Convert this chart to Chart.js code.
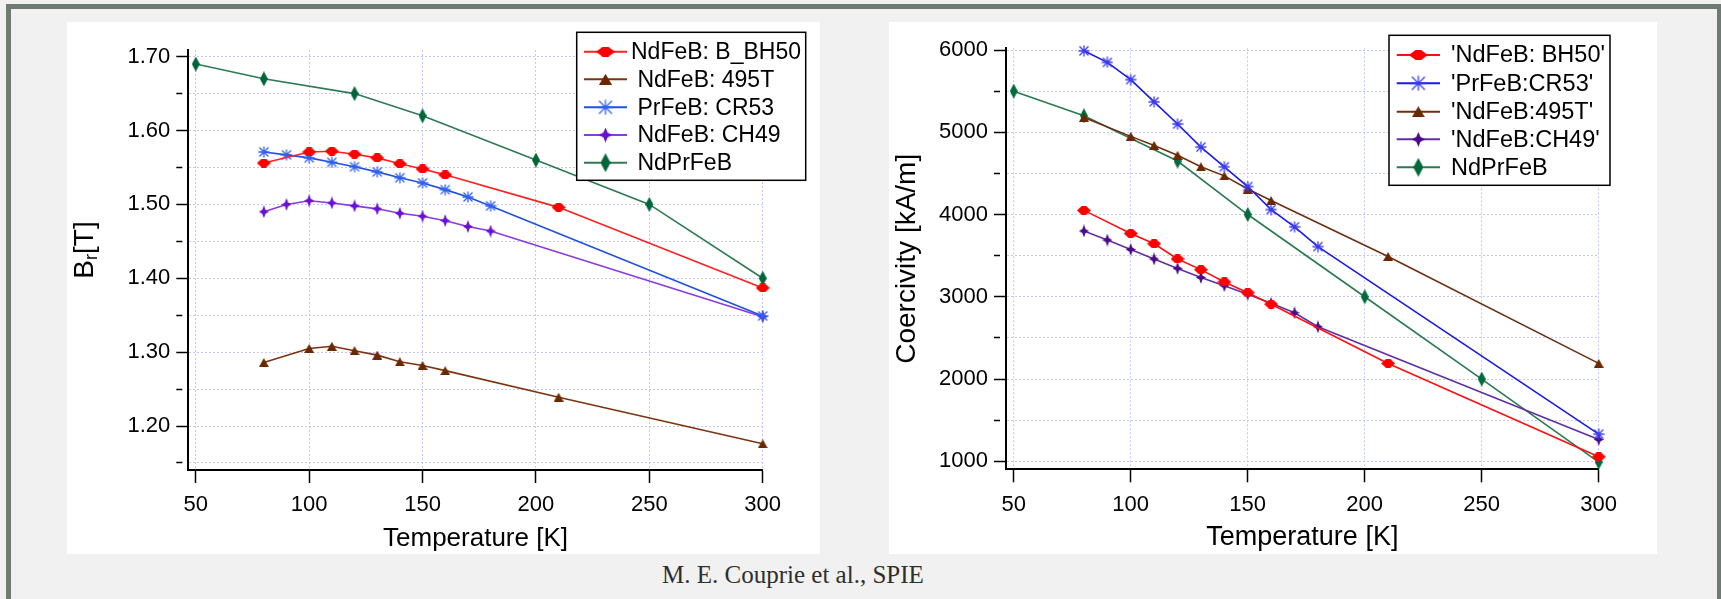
<!DOCTYPE html>
<html>
<head>
<meta charset="utf-8">
<script src="https://cdn.jsdelivr.net/npm/chart.js@4.4.1/dist/chart.umd.min.js"></script>
<style>
  html, body { margin: 0; padding: 0; }
  body { width: 1721px; height: 599px; background: #f1f1f1; position: relative; overflow: hidden; }
  #frame { position: absolute; left: 6px; top: 4px; width: 1706px; height: 700px;
           border-top: 5px solid #6d7b72; border-left: 5px solid #6d7b72; border-right: 4px solid #6d7b72; }
  canvas { position: absolute; background: #fff; }
  #cBr { left: 67px; top: 22px; }
  #cHc { left: 889px; top: 22px; }
  #credit { position: absolute; left: 662px; top: 562px; font: 25px/25px "Liberation Serif", serif; color: #2e2e2e; white-space: nowrap; }
</style>
</head>
<body>
<div id="frame"></div>
<canvas id="cBr" width="753" height="532"></canvas>
<canvas id="cHc" width="768" height="532"></canvas>
<div id="credit">M. E. Couprie et al., SPIE</div>
<script>
// temperatures [K]
const tSparse = [80, 100, 110, 120, 130, 140, 150, 160, 210, 300];
const tDense = [80, 90, 100, 110, 120, 130, 140, 150, 160, 170, 180, 300];
const tNdPr = [50, 80, 120, 150, 200, 250, 300];

// remanence Br [T]
const brBH50 = [1.556, 1.571, 1.572, 1.568, 1.563, 1.555, 1.548, 1.540, 1.496, 1.387];
const br495T = [1.286, 1.305, 1.308, 1.302, 1.296, 1.287, 1.282, 1.275, 1.239, 1.176];
const brCR53 = [1.571, 1.567, 1.563, 1.557, 1.551, 1.544, 1.536, 1.529, 1.520, 1.510, 1.498, 1.349];
const brCH49 = [1.490, 1.500, 1.505, 1.502, 1.498, 1.494, 1.488, 1.484, 1.478, 1.470, 1.464, 1.348];
const brNdPr = [1.69, 1.67, 1.65, 1.62, 1.56, 1.50, 1.40];

// coercivity [kA/m]
const hcBH50 = [4050, 3770, 3645, 3460, 3330, 3180, 3050, 2910, 2190, 1055];
const hcCR53 = [5990, 5850, 5640, 5370, 5100, 4820, 4580, 4340, 4060, 3850, 3610, 1330];
const hc495T = [5180, 4950, 4840, 4720, 4580, 4470, 4310, 4170, 3490, 2190];
const hcCH49 = [3800, 3690, 3575, 3460, 3345, 3235, 3135, 3030, 2920, 2805, 2635, 1265];
const hcNdPr = [5500, 5200, 4650, 4000, 3000, 2000, 990];

// axis ticks
const xTicks = [50, 100, 150, 200, 250, 300];
const brTicks = [1.15, 1.20, 1.25, 1.30, 1.35, 1.40, 1.45, 1.50, 1.55, 1.60, 1.65, 1.70];
const brTickLabels = ['', '1.20', '', '1.30', '', '1.40', '', '1.50', '', '1.60', '', '1.70'];
const hcTicks = [1000, 1500, 2000, 2500, 3000, 3500, 4000, 4500, 5000, 5500, 6000];
const hcTickLabels = ['1000', '', '2000', '', '3000', '', '4000', '', '5000', '', '6000'];

const FONT = '"Liberation Sans", Arial, sans-serif';
const GRID = '#c4c4ff';

// small canvases used as point styles
function marker(shape, w, h, fill) {
  const c = document.createElement('canvas');
  c.width = w; c.height = h;
  const g = c.getContext('2d');
  g.fillStyle = fill; g.strokeStyle = fill;
  g.beginPath();
  if (shape === 'hex') {
    g.moveTo(0, h / 2); g.lineTo(w * 0.35, 0); g.lineTo(w * 0.65, 0);
    g.lineTo(w, h / 2); g.lineTo(w * 0.65, h); g.lineTo(w * 0.35, h);
  } else if (shape === 'tri') {
    g.moveTo(w / 2, 0); g.lineTo(w, h); g.lineTo(0, h);
  } else if (shape === 'diamond') {
    g.moveTo(w / 2, 0); g.lineTo(w, h / 2); g.lineTo(w / 2, h); g.lineTo(0, h / 2);
  } else if (shape === 'sparkle') {
    const cx = w / 2, cy = h / 2, ix = w * 0.16, iy = h * 0.16;
    g.moveTo(cx, 0); g.lineTo(cx + ix, cy - iy); g.lineTo(w, cy); g.lineTo(cx + ix, cy + iy);
    g.lineTo(cx, h); g.lineTo(cx - ix, cy + iy); g.lineTo(0, cy); g.lineTo(cx - ix, cy - iy);
  }
  if (shape === 'star') {
    g.lineWidth = 1.3;
    g.moveTo(w / 2, 0.5); g.lineTo(w / 2, h - 0.5);
    g.moveTo(0.5, h / 2); g.lineTo(w - 0.5, h / 2);
    g.moveTo(1.5, 1.5); g.lineTo(w - 1.5, h - 1.5);
    g.moveTo(w - 1.5, 1.5); g.lineTo(1.5, h - 1.5);
    g.stroke();
  } else {
    g.closePath(); g.fill();
  }
  return c;
}

const SIZES = { hex: [14, 9], tri: [10, 9], star: [12, 12], sparkle: [10, 13], diamond: [8, 15] };
const LSIZES = { hex: [19, 10], tri: [13, 11], star: [16, 16], sparkle: [13, 15], diamond: [10, 19] };

function series(label, xs, ys, line, fill, shape) {
  return {
    label: label,
    data: xs.map((x, i) => ({ x: x, y: ys[i] })),
    borderColor: line,
    backgroundColor: fill,
    borderWidth: 1.6,
    tension: 0,
    clip: false,
    pointStyle: marker(shape, SIZES[shape][0], SIZES[shape][1], fill),
    pointRadius: 5,
    pointHoverRadius: 5,
    legendPt: marker(shape, LSIZES[shape][0], LSIZES[shape][1], fill)
  };
}

function boxLegend(o) {
  return {
    id: 'boxLegend',
    afterDatasetsDraw(chart) {
      const g = chart.ctx;
      g.save();
      g.fillStyle = '#fff';
      g.fillRect(o.x, o.y, o.w, o.h);
      g.lineWidth = 1.5; g.strokeStyle = '#000';
      g.strokeRect(o.x, o.y, o.w, o.h);
      g.font = o.size + 'px ' + FONT;
      g.textBaseline = 'middle';
      chart.data.datasets.forEach((ds, i) => {
        const ry = o.rows[i];
        g.strokeStyle = ds.borderColor; g.lineWidth = 2;
        g.beginPath(); g.moveTo(o.x0, ry); g.lineTo(o.x1, ry); g.stroke();
        const m = ds.legendPt;
        g.drawImage(m, (o.x0 + o.x1) / 2 - m.width / 2, ry - m.height / 2);
        g.fillStyle = '#000';
        g.fillText(ds.label, o.tx, ry + 1);
      });
      g.restore();
    }
  };
}

// B_r title with subscript
const brTitle = {
  id: 'brTitle',
  afterDraw(chart) {
    const g = chart.ctx;
    const big = '28px ' + FONT, small = '18px ' + FONT;
    g.save();
    g.translate(18, 228);
    g.rotate(-Math.PI / 2);
    g.fillStyle = '#000';
    g.textBaseline = 'middle';
    g.font = big;
    const wB = g.measureText('B').width, wT = g.measureText('[T]').width;
    g.font = small;
    const wr = g.measureText('r').width;
    const x0 = -(wB + wr + wT) / 2;
    g.font = big; g.fillText('B', x0, 0);
    g.font = small; g.fillText('r', x0 + wB, 7);
    g.font = big; g.fillText('[T]', x0 + wB + wr, 0);
    g.restore();
  }
};

function xScale(h, titleSize) {
  return {
    type: 'linear', min: 46.7, max: 300,
    afterBuildTicks: s => { s.ticks = xTicks.map(v => ({ value: v })); },
    afterFit: s => { s.height = h; },
    ticks: { autoSkip: false, maxRotation: 0, padding: 9, color: '#000', font: { family: FONT, size: 22 }, callback: v => String(v) },
    grid: { color: GRID, lineWidth: 1, tickLength: 13, tickColor: '#000', tickWidth: 1.5, tickBorderDash: [] },
    border: { color: '#000', width: 2, dash: [2, 2] },
    title: { display: true, text: 'Temperature [K]', color: '#000', font: { family: FONT, size: titleSize }, padding: 0 }
  };
}

function yScale(min, max, ticks, labels, w, title) {
  return {
    type: 'linear', min: min, max: max,
    afterBuildTicks: s => { s.ticks = ticks.map(v => ({ value: v })); },
    afterFit: s => { s.width = w; },
    ticks: { autoSkip: false, padding: 6, color: '#000', font: { family: FONT, size: 22 }, callback: (v, i) => labels[i] },
    grid: { color: GRID, lineWidth: 1, tickLength: 12, tickColor: '#000', tickWidth: 1.5,
            tickBorderDash: c => (labels[c.index] ? [] : [6, 40]) },
    border: { color: '#000', width: 2, dash: [2, 2] },
    title: title
  };
}

new Chart(document.getElementById('cBr'), {
  type: 'line',
  data: {
    datasets: [
      series('NdFeB: B_BH50', tSparse, brBH50, '#ff2020', '#ff0000', 'hex'),
      series(' NdFeB: 495T', tSparse, br495T, '#7a3510', '#6a2800', 'tri'),
      series(' PrFeB: CR53', tDense, brCR53, '#2050e0', '#3060f0', 'star'),
      series(' NdFeB: CH49', tDense, brCH49, '#8a3ae0', '#6a10d0', 'sparkle'),
      series(' NdPrFeB', tNdPr, brNdPr, '#2e7a52', '#00663a', 'diamond')
    ]
  },
  options: {
    responsive: false,
    animation: false,
    layout: { padding: { left: 0, top: 28, right: 57.3, bottom: 0 } },
    scales: {
      x: xScale(84, 26),
      y: yScale(1.1405, 1.709, brTicks, brTickLabels, 121.3, { display: false })
    },
    plugins: { legend: { display: false }, tooltip: { enabled: false } }
  },
  plugins: [
    boxLegend({ x: 509.7, y: 10.3, w: 229, h: 148, rows: [29.7, 57.3, 85.3, 113, 140.7], x0: 517, x1: 560, tx: 564, size: 23 }),
    brTitle
  ]
});

new Chart(document.getElementById('cHc'), {
  type: 'line',
  data: {
    datasets: [
      series("'NdFeB: BH50'", tSparse, hcBH50, '#ff1010', '#ff0000', 'hex'),
      series("'PrFeB:CR53'", tDense, hcCR53, '#1a1ae6', '#3a3af0', 'star'),
      series("'NdFeB:495T'", tSparse, hc495T, '#6e2e10', '#6a2800', 'tri'),
      series("'NdFeB:CH49'", tDense, hcCH49, '#6030a0', '#4a0a8a', 'sparkle'),
      series('NdPrFeB', tNdPr, hcNdPr, '#2a7a50', '#006a3a', 'diamond')
    ]
  },
  options: {
    responsive: false,
    animation: false,
    layout: { padding: { left: 0, top: 26.3, right: 58.3, bottom: 0 } },
    scales: {
      x: xScale(84.7, 27),
      y: yScale(902.7, 6020.7, hcTicks, hcTickLabels, 117,
        { display: true, text: 'Coercivity [kA/m]', color: '#000', font: { family: FONT, size: 28 }, padding: { top: 1, bottom: 0 } })
    },
    plugins: { legend: { display: false }, tooltip: { enabled: false } }
  },
  plugins: [
    boxLegend({ x: 500, y: 13.3, w: 221, h: 150, rows: [33, 61.3, 89.7, 117.3, 145.3], x0: 507.7, x1: 551, tx: 562, size: 23.5 })
  ]
});
</script>
</body>
</html>
